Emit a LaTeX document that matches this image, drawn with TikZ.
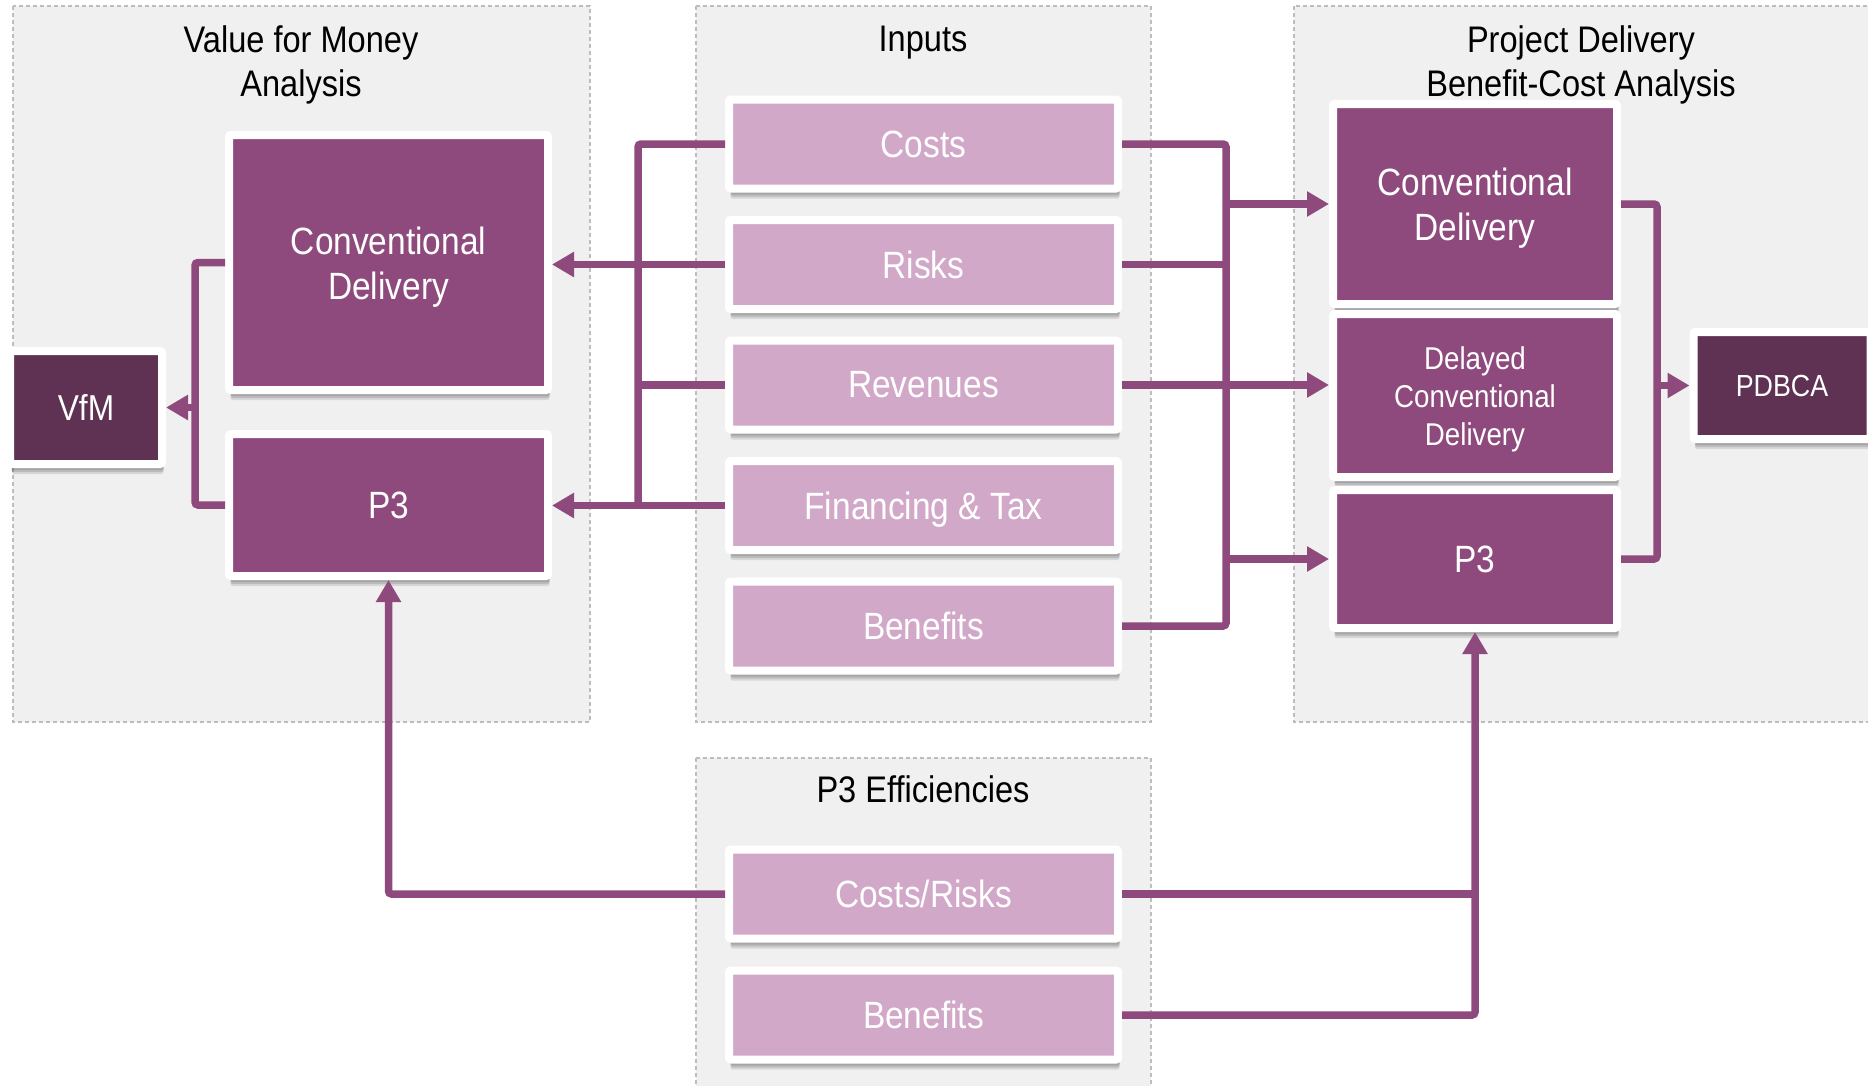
\documentclass[tikz,border=0pt]{standalone}
\usepackage{fontspec}
\setmainfont{Liberation Sans}[FakeStretch=0.88]
\usetikzlibrary{arrows.meta,shadows}

\definecolor{plum}{HTML}{8E4A7C}
\definecolor{lilac}{HTML}{D2A8C8}
\definecolor{deepplum}{HTML}{5F3254}
\definecolor{panelgray}{HTML}{F0F0F0}
\definecolor{dashgray}{HTML}{BDBDBD}

% strut that lifts the top of a stacked label so it sits centred
\newcommand{\toplift}[1]{\rule{0pt}{#1}}

\begin{document}
\begin{tikzpicture}[x=1pt,y=-1pt,
  panel/.style={draw=dashgray, fill=panelgray, line width=1.2pt, dash pattern=on 4pt off 3pt},
  ttl/.style={align=center, text=black, font=\fontsize{37}{44}\selectfont},
  box/.style={rectangle, draw=white, line width=8pt, rounded corners=2pt,
    text=white, align=center, inner sep=0pt, font=\fontsize{38}{45}\selectfont,
    drop shadow={shadow xshift=1.5pt, shadow yshift=-6pt, opacity=0.12, fill=black},
    drop shadow={shadow xshift=1.5pt, shadow yshift=-8pt, opacity=0.12, fill=black},
    drop shadow={shadow xshift=1.5pt, shadow yshift=-10pt, opacity=0.10, fill=black}},
  midbox/.style={box, fill=plum},
  lightbox/.style={box, fill=lilac, minimum width=389pt, minimum height=89pt},
  darkbox/.style={box, fill=deepplum},
  conn/.style={draw=plum, line width=7.5pt, rounded corners=3pt},
  arr/.style={conn, -{Triangle[length=22pt,width=24pt]}}
]
\useasboundingbox (0,0) rectangle (1868,1085);
\fill[white] (0,0) rectangle (1868,1085);

% panels
\draw[panel] (13,6) rectangle (590,722);
\draw[panel] (696,6) rectangle (1151,722);
\draw[panel] (1294,6) rectangle (1890,722);
\draw[panel] (696,758) rectangle (1151,1110);

% panel titles
\node[ttl] (vtitle) at (301,64.5) {Value for Money\\Analysis};
\node[ttl] (ititle) at (923,42.5) {Inputs};
\node[ttl] (ptitle) at (1581,64.5) {Project Delivery\\Benefit-Cost Analysis};
\node[ttl] (etitle) at (923,789.5) {P3 Efficiencies};

% value for money analysis
\node[midbox, minimum width=319pt, minimum height=255pt] (vconv) at (388.5,262.5) {\toplift{36pt}Conventional\\Delivery};
\node[midbox, minimum width=319pt, minimum height=142pt] (vp3) at (388.5,505) {P3};
\node[darkbox, minimum width=152pt, minimum height=113pt, font=\fontsize{36}{42}\selectfont] (vfm) at (86,407.5) {VfM};

% inputs
\node[lightbox] (costs) at (923.5,144) {Costs};
\node[lightbox] (risks) at (923.5,264.5) {Risks};
\node[lightbox] (revs) at (923.5,385) {Revenues};
\node[lightbox, text depth=0pt] (fin) at (923.5,505.5) {Financing \& Tax};
\node[lightbox] (bens) at (923.5,626) {Benefits};

% P3 efficiencies
\node[lightbox] (ecr) at (923.5,894) {Costs/Risks};
\node[lightbox] (eben) at (923.5,1015) {Benefits};

% project delivery benefit-cost analysis
\node[midbox, minimum width=284pt, minimum height=200pt] (rconv) at (1475,204) {\toplift{36pt}Conventional\\Delivery};
\node[midbox, minimum width=284pt, minimum height=163pt, font=\fontsize{31.5}{38}\selectfont] (rdel) at (1475,395.5) {\toplift{31pt}Delayed\\Conventional\\Delivery};
\node[midbox, minimum width=284pt, minimum height=138pt] (rp3) at (1475,559) {P3};
\node[darkbox, minimum width=177pt, minimum height=107pt, font=\fontsize{30.5}{36}\selectfont] (pdbca) at (1782,385.5) {PDBCA};

% bus lines
\coordinate (lbus) at (638,0);
\coordinate (rbus) at (1226,0);
\coordinate (vbus) at (195,0);
\coordinate (pbus) at (1657,0);

% inputs to value for money
\draw[conn] (costs.west) -| (lbus |- fin.west);
\draw[arr] (risks.west) -- (risks.west -| vconv.east);
\draw[conn] (revs.west) -- (revs.west -| lbus);
\draw[arr] (fin.west) -- (fin.west -| vp3.east);

% inputs to benefit-cost analysis
\draw[conn] (costs.east) -| (rbus |- bens.east) -- (bens.east);
\draw[conn] (risks.east) -- (risks.east -| rbus);
\draw[arr] (rbus |- rconv.west) -- (rconv.west);
\draw[arr] (revs.east) -- (revs.east -| rdel.west);
\draw[arr] (rbus |- rp3.west) -- (rp3.west);

% delivery options to VfM
\draw[conn] (vconv.west) -| (vbus |- vp3.west) -- (vp3.west);
\draw[arr] (vbus |- vfm.east) -- (vfm.east);

% delivery options to PDBCA
\draw[conn] (rconv.east) -| (pbus |- rp3.east) -- (rp3.east);
\draw[arr] (pbus |- pdbca.west) -- (pdbca.west);

% efficiencies to the P3 options
\draw[arr] (ecr.west) -| (vp3.south);
\draw[conn] (ecr.east) -- (ecr.east -| rp3.south);
\draw[arr] (eben.east) -| (rp3.south);
\end{tikzpicture}
\end{document}
